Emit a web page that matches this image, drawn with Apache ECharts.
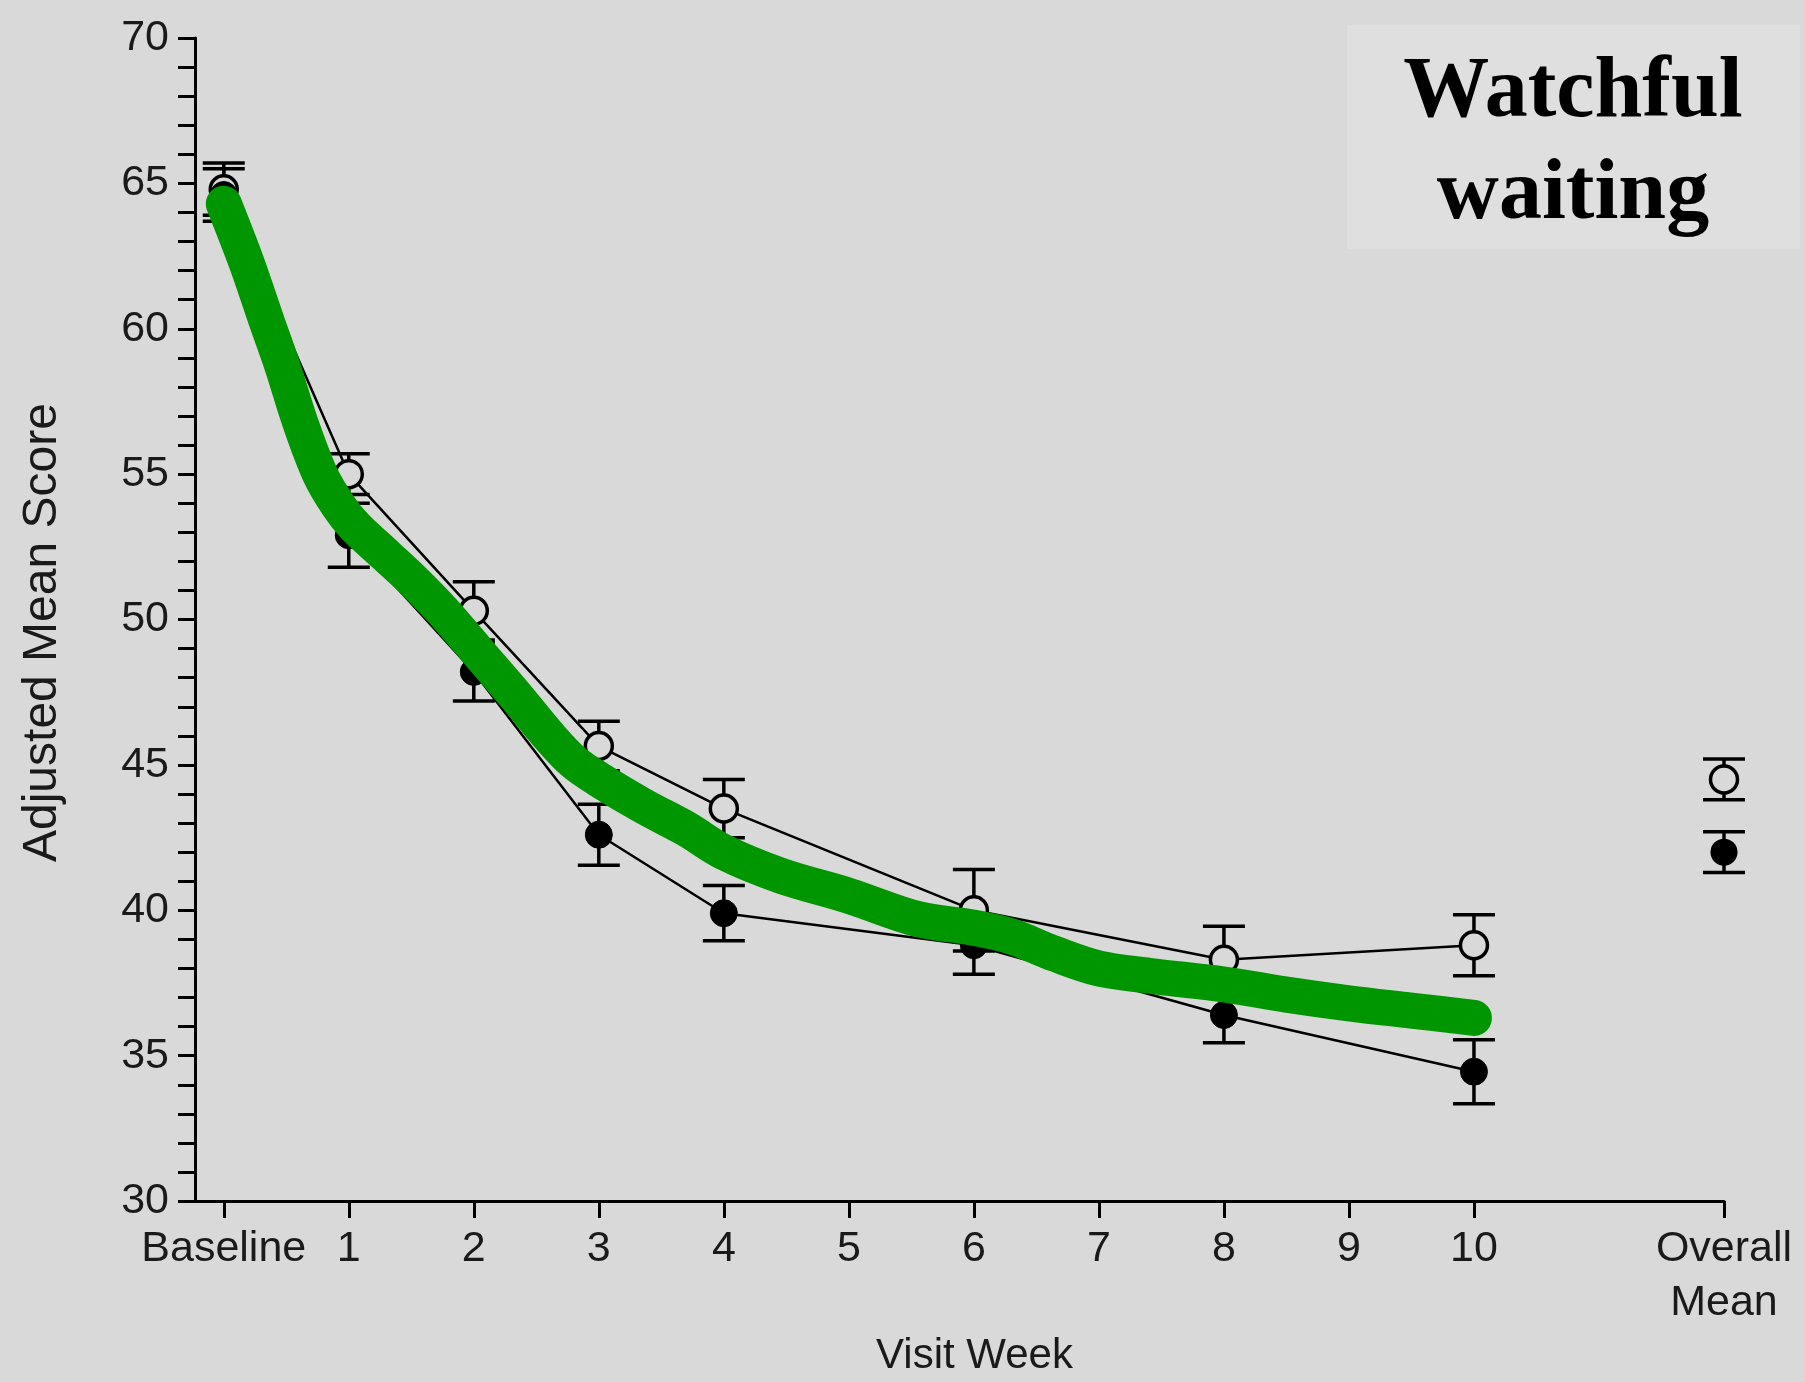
<!DOCTYPE html>
<html>
<head>
<meta charset="utf-8">
<script src="https://cdn.jsdelivr.net/npm/echarts@6/dist/echarts.min.js"></script>
<style>
html,body{margin:0;padding:0;background:#d9d9d9;overflow:hidden;}
#chart{width:1805px;height:1382px;}
</style>
</head>
<body>
<div id="chart"></div>
<script>
// ---- data ----
const tickValues = [0,1,2,3,4,5,6,7,8,9,10,12];
const tickLabels = ['Baseline','1','2','3','4','5','6','7','8','9','10','Overall\nMean'];

const visitWeeks = [0,1,2,3,4,6,8,10];
const openMean  = [64.8,55.0,50.3,45.65,43.5,40.0,38.3,38.8];
const openErr   = [0.9,0.7,1.0,0.85,1.0,1.4,1.15,1.05];
const filledMean= [64.6,52.9,48.2,42.6,39.9,38.8,36.4,34.45];
const filledErr = [0.9,1.1,1.0,1.05,0.95,1.0,0.95,1.1];

const overallX = 12;
const overallOpen = 44.5, overallOpenErr = 0.7;
const overallFilled = 42.0, overallFilledErr = 0.7;

const trendX = [0.0,0.18,0.34,0.47,0.61,0.77,0.92,1.05,1.3,1.5,1.75,2.05,2.35,2.6,2.8,3.0,3.35,3.7,4.0,4.45,5.0,5.55,6.0,6.3,6.65,7.0,7.4,8.0,8.5,9.0,9.5,10.0];
const trendY = [64.3,62.3,60.3,58.7,56.8,55.0,53.9,53.2,52.2,51.4,50.3,48.8,47.3,46.0,45.1,44.5,43.6,42.8,42.0,41.2,40.5,39.7,39.4,39.1,38.5,38.0,37.75,37.45,37.1,36.8,36.55,36.3];

const titleLines = ['Watchful','waiting'];

// ---- build ----
const BG = '#d9d9d9';
const openPts = visitWeeks.map((w,i)=>[w, openMean[i]]);
const filledPts = visitWeeks.map((w,i)=>[w, filledMean[i]]);
const errData = [];
visitWeeks.forEach((w,i)=>{
  errData.push([w, openMean[i]-openErr[i], openMean[i]+openErr[i]]);
  errData.push([w, filledMean[i]-filledErr[i], filledMean[i]+filledErr[i]]);
});
errData.push([overallX, overallOpen-overallOpenErr, overallOpen+overallOpenErr]);
errData.push([overallX, overallFilled-overallFilledErr, overallFilled+overallFilledErr]);
const trendPts = trendX.map((x,i)=>[x, trendY[i]]);

function renderErr(params, api){
  const x = api.value(0), lo = api.value(1), hi = api.value(2);
  const a = api.coord([x, lo]), b = api.coord([x, hi]);
  const hw = 21;
  const st = {stroke:'#000', lineWidth:3.5, fill:null};
  return {type:'group', children:[
    {type:'line', shape:{x1:a[0],y1:a[1],x2:b[0],y2:b[1]}, style:st},
    {type:'line', shape:{x1:a[0]-hw,y1:a[1],x2:a[0]+hw,y2:a[1]}, style:st},
    {type:'line', shape:{x1:b[0]-hw,y1:b[1],x2:b[0]+hw,y2:b[1]}, style:st}
  ]};
}

const chart = echarts.init(document.getElementById('chart'), null, {renderer:'canvas'});
const FONT = 'Liberation Sans, Arial, sans-serif';
chart.setOption({
  backgroundColor: BG,
  animation: false,
  grid: {left:195, right:81, top:38, bottom:168, containLabel:false},
  xAxis: {
    type:'value', min:-0.23, max:12,
    name:'Visit Week', nameLocation:'middle', nameGap:126,
    nameTextStyle:{fontFamily:FONT, fontSize:42, color:'#1a1a1a', padding:[0,0,0,30]},
    axisLine:{show:true, onZero:false, lineStyle:{color:'#000', width:3}},
    axisTick:{show:true, customValues:tickValues, length:17, lineStyle:{color:'#000', width:3}},
    axisLabel:{show:true, customValues:tickValues, margin:21, fontFamily:FONT, fontSize:43, lineHeight:54, color:'#1a1a1a',
      formatter:(v)=>{const i = tickValues.indexOf(v); return i>=0 ? tickLabels[i] : '';}},
    splitLine:{show:false}
  },
  yAxis: {
    type:'value', min:30, max:70, interval:5,
    name:'Adjusted Mean Score', nameLocation:'middle', nameGap:128,
    nameTextStyle:{fontFamily:FONT, fontSize:48, color:'#1a1a1a', padding:[0,26,0,0]},
    axisLine:{show:true, onZero:false, lineStyle:{color:'#000', width:3}},
    axisTick:{show:true, length:17, lineStyle:{color:'#000', width:3}},
    minorTick:{show:true, splitNumber:5, length:17, lineStyle:{color:'#000', width:3}},
    axisLabel:{margin:26, fontFamily:FONT, fontSize:43, color:'#1a1a1a'},
    splitLine:{show:false}
  },
  graphic: [
    {type:'rect', left:1347, top:25, z:100, shape:{width:453, height:224}, style:{fill:'#dfdfdf'}},
    {type:'text', x:1573, y:145, z:101, style:{text:titleLines.join('\n'), fontFamily:'Liberation Serif, Times New Roman, serif',
      fontWeight:'bold', fontSize:86, lineHeight:102, fill:'#000', align:'center', verticalAlign:'middle'}}
  ],
  series: [
    {type:'custom', name:'err', renderItem:renderErr, data:errData, z:1, silent:true,
      encode:{x:0, y:[1,2]}},
    {type:'line', name:'open', data:openPts, z:3, symbol:'circle', symbolSize:27,
      lineStyle:{color:'#000', width:2.5}, itemStyle:{color:BG, borderColor:'#000', borderWidth:3.5, opacity:1}},
    {type:'line', name:'filled', data:filledPts, z:3, symbol:'circle', symbolSize:27,
      lineStyle:{color:'#000', width:2.5}, itemStyle:{color:'#000', borderColor:'#000', borderWidth:1, opacity:1}},
    {type:'scatter', name:'overallOpen', data:[[overallX, overallOpen]], z:4, symbol:'circle', symbolSize:27,
      itemStyle:{color:BG, borderColor:'#000', borderWidth:3.5, opacity:1}},
    {type:'scatter', name:'overallFilled', data:[[overallX, overallFilled]], z:4, symbol:'circle', symbolSize:27,
      itemStyle:{color:'#000', opacity:1}},
    {type:'line', name:'trend', data:trendPts, z:10, symbol:'none', smooth:0.35,
      lineStyle:{color:'#009600', width:36, cap:'round', join:'round'}}
  ]
});
</script>
</body>
</html>
